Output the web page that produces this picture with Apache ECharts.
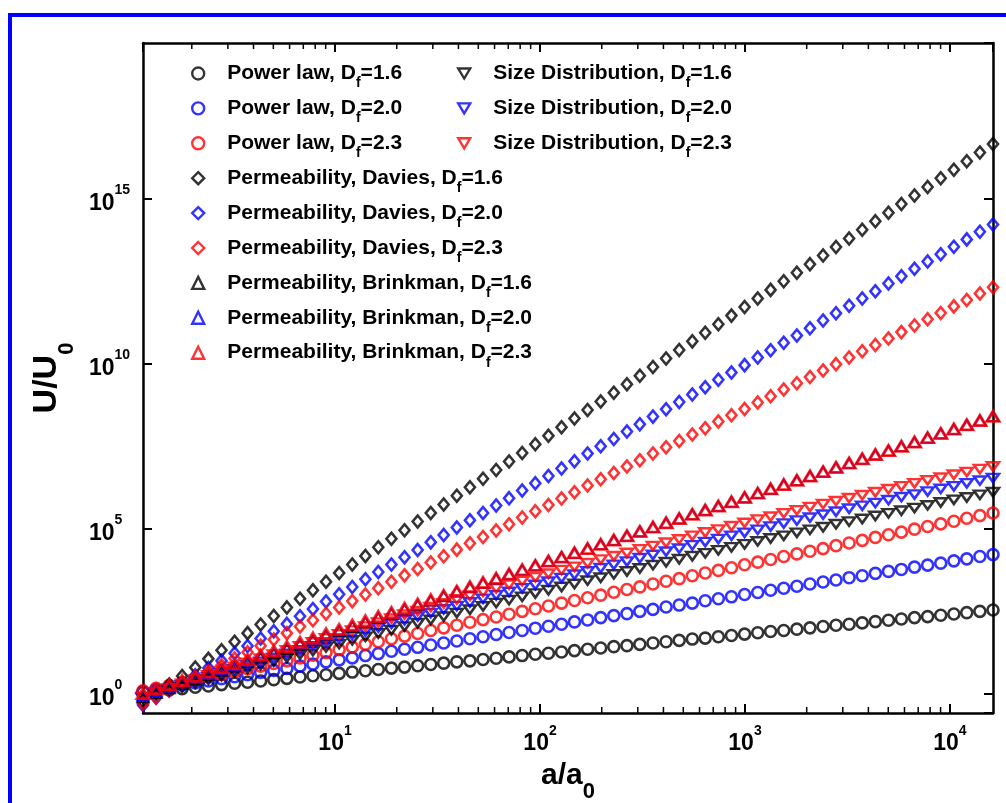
<!DOCTYPE html>
<html>
<head>
<meta charset="UTF-8">
<title>U/U0 vs a/a0</title>
<script type="text/javascript" src="https://cdn.jsdelivr.net/npm/echarts@6/dist/echarts.min.js"></script>
<style>
html,body{margin:0;padding:0;background:#fff;}
</style>
</head>
<body>
<div id="box" style="width:1006px;height:803px;"></div>

<script type="text/javascript">
// log10(a/a0) of every point
var logA=[0.063,0.127,0.191,0.254,0.318,0.382,0.446,0.510,0.573,0.637,0.701,
  0.765,0.829,0.892,0.956,1.020,1.084,1.148,1.211,1.275,1.339,1.403,
  1.467,1.530,1.594,1.658,1.722,1.786,1.849,1.913,1.977,2.041,2.105,
  2.168,2.232,2.296,2.360,2.424,2.487,2.551,2.615,2.679,2.743,2.806,
  2.870,2.934,2.998,3.062,3.125,3.189,3.253,3.317,3.381,3.444,3.508,
  3.572,3.636,3.700,3.763,3.827,3.891,3.955,4.019,4.082,4.146,4.210];

// log10(U/U0), one array per series
var powerLaw16=[0.04,0.08,0.11,0.15,0.19,0.23,0.27,0.31,0.34,0.38,0.42,
  0.46,0.50,0.54,0.57,0.61,0.65,0.69,0.73,0.77,0.80,0.84,
  0.88,0.92,0.96,0.99,1.03,1.07,1.11,1.15,1.19,1.22,1.26,
  1.30,1.34,1.38,1.42,1.45,1.49,1.53,1.57,1.61,1.65,1.68,
  1.72,1.76,1.80,1.84,1.88,1.91,1.95,1.99,2.03,2.07,2.10,
  2.14,2.18,2.22,2.26,2.30,2.33,2.37,2.41,2.45,2.49,2.53];
var powerLaw20=[0.06,0.13,0.19,0.25,0.32,0.38,0.45,0.51,0.57,0.64,0.70,
  0.76,0.83,0.89,0.96,1.02,1.08,1.15,1.21,1.28,1.34,1.40,
  1.47,1.53,1.59,1.66,1.72,1.79,1.85,1.91,1.98,2.04,2.10,
  2.17,2.23,2.30,2.36,2.42,2.49,2.55,2.62,2.68,2.74,2.81,
  2.87,2.93,3.00,3.06,3.13,3.19,3.25,3.32,3.38,3.44,3.51,
  3.57,3.64,3.70,3.76,3.83,3.89,3.95,4.02,4.08,4.15,4.21];
var powerLaw23=[0.08,0.16,0.25,0.33,0.41,0.50,0.58,0.66,0.75,0.83,0.91,
  0.99,1.08,1.16,1.24,1.33,1.41,1.49,1.57,1.66,1.74,1.82,
  1.91,1.99,2.07,2.16,2.24,2.32,2.40,2.49,2.57,2.65,2.74,
  2.82,2.90,2.98,3.07,3.15,3.23,3.32,3.40,3.48,3.57,3.65,
  3.73,3.81,3.90,3.98,4.06,4.15,4.23,4.31,4.39,4.48,4.56,
  4.64,4.73,4.81,4.89,4.98,5.06,5.14,5.22,5.31,5.39,5.47];
var davies16=[-0.25,0.01,0.27,0.53,0.79,1.05,1.31,1.57,1.83,2.09,2.35,
  2.61,2.87,3.13,3.39,3.65,3.91,4.17,4.43,4.69,4.95,5.21,
  5.47,5.73,5.99,6.25,6.51,6.77,7.03,7.29,7.55,7.81,8.07,
  8.33,8.59,8.85,9.11,9.37,9.63,9.89,10.15,10.41,10.67,10.93,
  11.19,11.45,11.71,11.97,12.23,12.49,12.75,13.01,13.27,13.53,13.79,
  14.05,14.31,14.57,14.83,15.09,15.35,15.61,15.87,16.13,16.39,16.65];
var davies20=[-0.35,-0.13,0.10,0.32,0.55,0.77,0.99,1.22,1.44,1.67,1.89,
  2.11,2.34,2.56,2.79,3.01,3.23,3.46,3.68,3.91,4.13,4.35,
  4.58,4.80,5.03,5.25,5.47,5.70,5.92,6.15,6.37,6.59,6.82,
  7.04,7.27,7.49,7.71,7.94,8.16,8.39,8.61,8.83,9.06,9.28,
  9.51,9.73,9.95,10.18,10.40,10.63,10.85,11.07,11.30,11.52,11.75,
  11.97,12.19,12.42,12.64,12.87,13.09,13.31,13.54,13.76,13.99,14.21];
var davies23=[-0.30,-0.11,0.09,0.28,0.48,0.67,0.86,1.06,1.25,1.45,1.64,
  1.83,2.03,2.22,2.42,2.61,2.80,3.00,3.19,3.39,3.58,3.77,
  3.97,4.16,4.36,4.55,4.74,4.94,5.13,5.33,5.52,5.71,5.91,
  6.10,6.30,6.49,6.68,6.88,7.07,7.27,7.46,7.65,7.85,8.04,
  8.24,8.43,8.62,8.82,9.01,9.21,9.40,9.59,9.79,9.98,10.18,
  10.37,10.56,10.76,10.95,11.15,11.34,11.53,11.73,11.92,12.12,12.31];
var brinkman16=[-0.12,0.01,0.15,0.28,0.42,0.55,0.68,0.81,0.94,1.08,1.21,
  1.34,1.48,1.61,1.75,1.88,2.01,2.15,2.28,2.41,2.54,2.67,
  2.81,2.94,3.08,3.21,3.34,3.48,3.61,3.75,3.88,4.01,4.13,
  4.26,4.39,4.52,4.65,4.78,4.91,5.04,5.17,5.30,5.43,5.56,
  5.68,5.81,5.94,6.07,6.20,6.33,6.46,6.59,6.72,6.85,6.98,
  7.11,7.24,7.36,7.49,7.62,7.75,7.88,8.01,8.14,8.27,8.40];
var brinkman20=[-0.06,0.07,0.20,0.34,0.47,0.60,0.73,0.85,0.99,1.12,1.25,
  1.38,1.51,1.65,1.78,1.91,2.04,2.17,2.31,2.43,2.56,2.69,
  2.82,2.96,3.09,3.22,3.35,3.48,3.62,3.75,3.88,4.01,4.13,
  4.26,4.39,4.52,4.65,4.78,4.91,5.04,5.17,5.30,5.43,5.56,
  5.68,5.81,5.94,6.07,6.20,6.33,6.46,6.59,6.72,6.85,6.98,
  7.11,7.24,7.36,7.49,7.62,7.75,7.88,8.01,8.14,8.27,8.40];
var brinkman23=[0.00,0.13,0.26,0.39,0.52,0.65,0.78,0.90,1.03,1.16,1.29,
  1.42,1.55,1.68,1.81,1.94,2.07,2.20,2.33,2.45,2.58,2.71,
  2.84,2.97,3.10,3.23,3.36,3.49,3.62,3.75,3.88,4.01,4.13,
  4.26,4.39,4.52,4.65,4.78,4.91,5.04,5.17,5.30,5.43,5.56,
  5.68,5.81,5.94,6.07,6.20,6.33,6.46,6.59,6.72,6.85,6.98,
  7.11,7.24,7.36,7.49,7.62,7.75,7.88,8.01,8.14,8.27,8.40];
var sizeDist16=[-0.15,-0.04,0.08,0.19,0.30,0.42,0.53,0.64,0.75,0.86,0.97,
  1.08,1.18,1.29,1.40,1.50,1.61,1.72,1.82,1.92,2.03,2.13,
  2.23,2.33,2.44,2.54,2.64,2.74,2.83,2.93,3.03,3.13,3.23,
  3.32,3.42,3.51,3.61,3.70,3.79,3.89,3.98,4.07,4.16,4.25,
  4.34,4.43,4.52,4.61,4.70,4.78,4.87,4.96,5.04,5.13,5.21,
  5.29,5.38,5.46,5.54,5.62,5.70,5.79,5.87,5.94,6.02,6.10];
var sizeDist20=[-0.12,0.00,0.13,0.25,0.37,0.49,0.61,0.73,0.85,0.96,1.08,
  1.20,1.31,1.43,1.54,1.66,1.77,1.88,2.00,2.11,2.22,2.33,
  2.44,2.55,2.65,2.76,2.87,2.98,3.08,3.19,3.29,3.39,3.50,
  3.60,3.70,3.80,3.90,4.00,4.10,4.20,4.30,4.39,4.49,4.59,
  4.68,4.78,4.87,4.96,5.06,5.15,5.24,5.33,5.42,5.51,5.60,
  5.69,5.77,5.86,5.95,6.03,6.12,6.20,6.28,6.37,6.45,6.53];
var sizeDist23=[-0.10,0.03,0.16,0.29,0.42,0.55,0.68,0.81,0.93,1.06,1.18,
  1.31,1.43,1.55,1.67,1.79,1.91,2.03,2.15,2.27,2.39,2.50,
  2.62,2.73,2.85,2.96,3.08,3.19,3.30,3.41,3.52,3.63,3.74,
  3.84,3.95,4.06,4.16,4.26,4.37,4.47,4.57,4.67,4.78,4.88,
  4.97,5.07,5.17,5.27,5.36,5.46,5.55,5.65,5.74,5.83,5.92,
  6.01,6.10,6.19,6.28,6.37,6.46,6.54,6.63,6.71,6.80,6.88];

var legendLeft=['Power law, Df=1.6','Power law, Df=2.0','Power law, Df=2.3',
  'Permeability, Davies, Df=1.6','Permeability, Davies, Df=2.0','Permeability, Davies, Df=2.3',
  'Permeability, Brinkman, Df=1.6','Permeability, Brinkman, Df=2.0','Permeability, Brinkman, Df=2.3'];
var legendRight=['Size Distribution, Df=1.6','Size Distribution, Df=2.0','Size Distribution, Df=2.3'];

var xMin=Math.pow(10,0.063), xMax=Math.pow(10,4.21);
var yMin=Math.pow(10,-0.59), yMax=Math.pow(10,19.71);

var FONT='"Liberation Sans", Arial, sans-serif';
var BLACK='#000000', BLUE='#0000ff', RED='#ff0000';
var DOWN='path://M0,0L12,0L6,10Z';

function pts(ys){
  var out=[];
  for(var i=0;i<logA.length;i++){
    out.push([Math.pow(10,logA[i]),Math.pow(10,ys[i])]);
  }
  return out;
}

function mk(name,ys,color,symbol,size,bw){
  return {
    name:name,
    type:'scatter',
    data:pts(ys),
    symbol:symbol,
    symbolSize:size,
    symbolKeepAspect:true,
    itemStyle:{color:'rgba(255,255,255,0)',borderColor:color,borderWidth:bw||2.6},
    emphasis:{disabled:true},
    silent:true
  };
}

// minor ticks 2..9 per decade on the x axis
var minorTicks=[];
for(var d=0;d<=4;d++){
  for(var k=2;k<=9;k++){
    var v=k*Math.pow(10,d);
    if(v>xMin && v<xMax) minorTicks.push([v,1]);
  }
}

function supLabel(v){
  var e=Math.round(Math.log(v)/Math.LN10);
  return '{b|10}{sup|'+e+'}';
}
var tickRich={
  b:{fontSize:23,fontWeight:'bold',fontFamily:FONT,color:BLACK,verticalAlign:'middle'},
  sup:{fontSize:14,fontWeight:'bold',fontFamily:FONT,color:BLACK,verticalAlign:'top',padding:[0,0,26,0]}
};

function legendText(name){
  var p=name.split('Df=');
  return '{gap|}'+p[0]+'D{sub|f}='+p[1];
}
var legendStyle={
  fontSize:21,fontWeight:'bold',fontFamily:FONT,color:BLACK,
  rich:{
    gap:{width:18},
    sub:{fontSize:14,fontWeight:'bold',fontFamily:FONT,color:BLACK,verticalAlign:'bottom',padding:[20,0,0,0]}
  }
};

var mychart=echarts.init(document.getElementById('box'));

mychart.setOption({
  animation:false,
  backgroundColor:'#ffffff',
  grid:{left:143,right:13,top:43,bottom:90,outerBoundsMode:'none',containLabel:false},
  legend:[{
    data:legendLeft,orient:'vertical',left:186,top:58,
    itemWidth:12,itemHeight:12,itemGap:7.4,selectedMode:false,
    itemStyle:{borderWidth:2.4},
    formatter:legendText,textStyle:legendStyle
  },{
    data:legendRight,orient:'vertical',left:452,top:58,
    itemWidth:12,itemHeight:12,itemGap:7.4,selectedMode:false,
    itemStyle:{borderWidth:2.4},
    formatter:legendText,textStyle:legendStyle
  }],
  xAxis:[{
    type:'log',logBase:10,min:xMin,max:xMax,
    name:'{b|a/a}{s|0}',nameLocation:'middle',nameGap:30,
    nameTextStyle:{rich:{
      b:{fontSize:30,fontWeight:'bold',fontFamily:FONT,color:BLACK,verticalAlign:'middle'},
      s:{fontSize:22,fontWeight:'bold',fontFamily:FONT,color:BLACK,verticalAlign:'bottom',padding:[34,0,0,0]}
    }},
    axisLine:{lineStyle:{color:BLACK,width:2.5}},
    axisTick:{inside:true,length:9,lineStyle:{color:BLACK,width:2}},
    axisLabel:{margin:11,showMinLabel:false,showMaxLabel:false,formatter:supLabel,rich:tickRich},
    splitLine:{show:false}
  },{
    type:'log',logBase:10,min:xMin,max:xMax,position:'top',
    axisLine:{lineStyle:{color:BLACK,width:2.5}},
    axisTick:{inside:true,length:9,lineStyle:{color:BLACK,width:2}},
    axisLabel:{show:false},
    splitLine:{show:false}
  }],
  yAxis:[{
    type:'log',logBase:100000,min:yMin,max:yMax,
    name:'{b|U/U}{s|0}',nameLocation:'middle',nameGap:62,nameRotate:90,
    nameTextStyle:{rich:{
      b:{fontSize:34,fontWeight:'bold',fontFamily:FONT,color:BLACK,verticalAlign:'middle'},
      s:{fontSize:22,fontWeight:'bold',fontFamily:FONT,color:BLACK,verticalAlign:'bottom',padding:[40,0,0,0]}
    }},
    axisLine:{lineStyle:{color:BLACK,width:2.5}},
    axisTick:{inside:true,length:9,lineStyle:{color:BLACK,width:2}},
    axisLabel:{margin:54,align:'left',padding:[10,0,0,0],showMinLabel:false,showMaxLabel:false,formatter:supLabel,rich:tickRich},
    splitLine:{show:false}
  },{
    type:'log',logBase:100000,min:yMin,max:yMax,position:'right',
    axisLine:{lineStyle:{color:BLACK,width:2.5}},
    axisTick:{inside:true,length:9,lineStyle:{color:BLACK,width:2}},
    axisLabel:{show:false},
    splitLine:{show:false}
  }],
  graphic:[
    {type:'line',shape:{x1:8,y1:15,x2:1006,y2:15},style:{stroke:BLUE,lineWidth:4}},
    {type:'line',shape:{x1:10,y1:13,x2:10,y2:803},style:{stroke:BLUE,lineWidth:4}}
  ],
  series:[
    mk('Power law, Df=1.6',powerLaw16,BLACK,'circle',11),
    mk('Power law, Df=2.0',powerLaw20,BLUE,'circle',11),
    mk('Power law, Df=2.3',powerLaw23,RED,'circle',11),
    mk('Permeability, Davies, Df=1.6',davies16,BLACK,'diamond',[10,12]),
    mk('Permeability, Davies, Df=2.0',davies20,BLUE,'diamond',[10,12]),
    mk('Permeability, Davies, Df=2.3',davies23,RED,'diamond',[10,12]),
    mk('Size Distribution, Df=1.6',sizeDist16,BLACK,DOWN,[12,10]),
    mk('Size Distribution, Df=2.0',sizeDist20,BLUE,DOWN,[12,10]),
    mk('Size Distribution, Df=2.3',sizeDist23,RED,DOWN,[12,10]),
    mk('Permeability, Brinkman, Df=1.6',brinkman16,BLACK,'triangle',[12,10],1.6),
    mk('Permeability, Brinkman, Df=2.0',brinkman20,BLUE,'triangle',[12,10],1.6),
    mk('Permeability, Brinkman, Df=2.3',brinkman23,RED,'triangle',[12,10],3),
    {
      type:'custom',
      data:minorTicks,
      silent:true,
      renderItem:function(params,api){
        var x=api.coord([api.value(0),1])[0];
        var cs=params.coordSys;
        var st={stroke:BLACK,lineWidth:1.5};
        return {type:'group',children:[
          {type:'line',shape:{x1:x,y1:cs.y+cs.height,x2:x,y2:cs.y+cs.height-6},style:st},
          {type:'line',shape:{x1:x,y1:cs.y,x2:x,y2:cs.y+6},style:st}
        ]};
      }
    }
  ]
});
</script>
</body>
</html>
